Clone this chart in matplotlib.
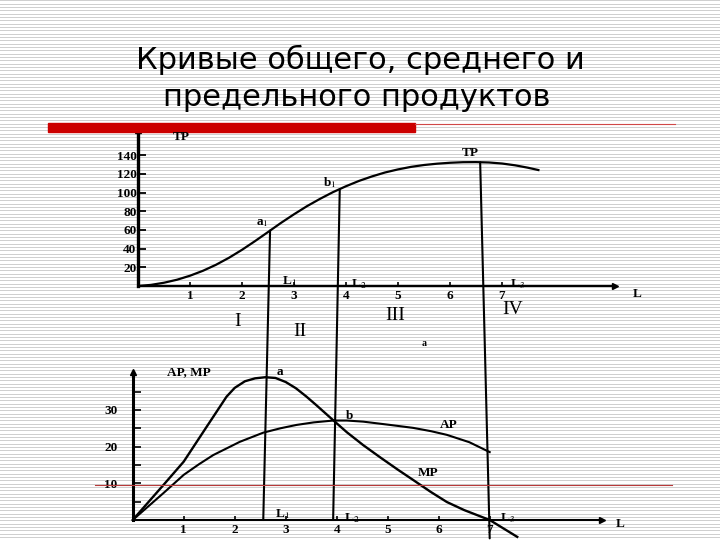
import numpy as np
import matplotlib
matplotlib.use("Agg")
import matplotlib.pyplot as plt
from matplotlib.patches import ConnectionPatch, Rectangle
from matplotlib.lines import Line2D

plt.rcParams["mathtext.fontset"] = "stix"

# ---------------- data ----------------
title_lines = ["Кривые общего, среднего и", "предельного продуктов"]

# total product (upper chart)
tp_L = [0, 0.25, 0.5, 0.75, 1.0, 1.25, 1.5, 1.75, 2.0, 2.25, 2.5, 2.75, 3.0, 3.25, 3.5,
        3.75, 4.0, 4.25, 4.5, 4.75, 5.0, 5.25, 5.5, 5.75, 6.0, 6.25, 6.5, 6.75, 7.0,
        7.25, 7.5, 7.7]
tp_val = [0, 1.2, 3.5, 6.7, 11, 16.3, 22.7, 30.2, 38.7, 48, 57.7, 67.5, 76.7, 85.4,
          93.2, 100.4, 106.7, 112.4, 117.2, 121.4, 124.7, 127.4, 129.4, 130.8, 131.8,
          132.4, 132.5, 132.1, 131, 129.1, 126.5, 124]
tp_yticks = [20, 40, 60, 80, 100, 120, 140]

# average and marginal product (lower chart)
mp_L = [0, 0.6, 1.0, 1.45, 1.84, 2.0, 2.2, 2.4, 2.6, 2.8, 3.0, 3.2, 3.4, 3.6, 3.93,
        4.2, 4.52, 4.86, 5.2, 5.5, 5.85, 6.16, 6.5, 7.0, 7.54]
mp_val = [0, 9.5, 15.9, 25.4, 33.6, 36.0, 37.8, 38.6, 38.9, 38.7, 37.6, 35.9, 33.7,
          31.3, 27.2, 23.9, 20.4, 17.0, 13.7, 10.9, 7.6, 4.9, 2.7, 0, -4.6]
ap_L = [0, 0.6, 1.0, 1.3, 1.58, 2.1, 2.56, 2.9, 3.21, 3.55, 3.93, 4.2, 4.52, 5.05,
        5.5, 5.85, 6.16, 6.6, 7.0]
ap_val = [0, 7.3, 12.3, 15.2, 17.7, 21.3, 23.8, 25.0, 25.9, 26.6, 27.1, 27.1, 26.8,
          25.9, 25.1, 24.2, 23.2, 21.2, 18.5]
apmp_major = [10, 20, 30]
apmp_minor = [5, 15, 25, 35]

x_ticks = [1, 2, 3, 4, 5, 6, 7]

# boundaries L1, L2, L3 (as placed in the upper and lower chart)
bound_top_L = [2.54, 3.88, 6.58]
bound_bot_L = [2.56, 3.93, 7.0]
bound_bot_y = [0, 0, -5]
bound_names = [r"L$_1$", r"L$_2$", r"L$_3$"]
stage_names = ["I", "II", "III", "IV"]

# ---------------- figure ----------------
W, H = 720, 540
fig = plt.figure(figsize=(7.2, 5.4), dpi=100)
fig.patch.set_facecolor("white")


def px(x, y):
    return x / W, 1 - y / H


# striped slide background
bg = fig.add_axes([0, 0, 1, 1], zorder=-10)
rows = np.arange(H)
stripe = np.where((rows * 3) % 10 < 3, 0.81, 1.0)
bg.imshow(np.tile(stripe[:, None], (1, W)), cmap="gray", vmin=0, vmax=1,
          aspect="auto", interpolation="nearest", extent=[0, W, H, 0])
bg.set_axis_off()

# title
title_font = ["DejaVu Sans"]
fig.text(*px(360, 60), title_lines[0], ha="center", va="center",
         fontsize=22, family=title_font, color="black")
fig.text(*px(357, 98), title_lines[1], ha="center", va="center",
         fontsize=22, family=title_font, color="black")

# red rule
fig.patches.append(Rectangle(px(48, 131.5), (415 - 48) / W, 8.5 / H,
                             transform=fig.transFigure, color="#cc0000", zorder=1))
fig.lines.append(Line2D([415 / W, 675 / W], [1 - 124 / H, 1 - 124 / H],
                        transform=fig.transFigure, color="#d04848", lw=0.8))

serif = ["Liberation Serif", "DejaVu Serif"]


def style_axes(ax, lw_y, lw_x):
    ax.set_facecolor("none")
    for s in ("top", "right"):
        ax.spines[s].set_visible(False)
    ax.spines["left"].set_linewidth(lw_y)
    ax.spines["bottom"].set_linewidth(lw_x)
    ax.plot(1, 0, ">k", ms=5, transform=ax.get_yaxis_transform(), clip_on=False)
    ax.plot(0, 1, "^k", ms=5, transform=ax.get_xaxis_transform(), clip_on=False)
    ax.set_xticks(x_ticks)
    ax.tick_params(axis="x", direction="in", length=3, width=1.2, pad=3)
    for lab in ax.get_xticklabels() + ax.get_yticklabels():
        lab.set_fontfamily(serif)
        lab.set_fontweight("bold")
        lab.set_fontsize(9.5)


# upper chart
ax1 = fig.add_axes([138 / W, (H - 286) / H, 477 / W, 156 / H])
ax1.set_xlim(0, 477 / 52)
ax1.set_ylim(0, 156 / 0.935)
ax1.plot(tp_L, tp_val, color="black", lw=1.6)
ax1.set_yticks(tp_yticks)
ax1.set_xticklabels([str(v) for v in x_ticks])
ax1.set_yticklabels([str(v) for v in tp_yticks])
ax1.tick_params(axis="y", direction="in", length=6, width=1.3, pad=1)
style_axes(ax1, 2.4, 1.5)

# lower chart
ax2 = fig.add_axes([132.7 / W, 20 / H, 469.3 / W, 148 / H])
ax2.set_xlim(0, 469.3 / 51)
ax2.set_ylim(0, 148 / 3.67)
ax2.plot(mp_L, mp_val, color="black", lw=1.7, clip_on=False)
ax2.plot(ap_L, ap_val, color="black", lw=1.5)
ax2.set_yticks(apmp_major)
ax2.set_yticks(apmp_minor, minor=True)
ax2.set_xticklabels([str(v) for v in x_ticks])
ax2.set_yticklabels([str(v) for v in apmp_major])
ax2.tick_params(axis="y", which="both", direction="in", length=6, width=1.2, pad=11)
style_axes(ax2, 2.2, 1.5)

# boundary lines through both charts
for lt, lb, yb in zip(bound_top_L, bound_bot_L, bound_bot_y):
    ytop = float(np.interp(lt, tp_L, tp_val))
    con = ConnectionPatch(xyA=(lt, ytop), coordsA=ax1.transData,
                          xyB=(lb, yb), coordsB=ax2.transData,
                          color="black", lw=1.5)
    fig.add_artist(con)

# thin red slide line
fig.lines.append(Line2D([95 / W, 672 / W], [1 - 485 / H, 1 - 485 / H],
                        transform=fig.transFigure, color="#b83a3a", lw=0.8))

# labels
lab_kw = dict(ha="center", va="center", family=serif, fontweight="bold",
              fontsize=9.5, color="black")
fig.text(*px(181, 137), "TP", **lab_kw)
fig.text(*px(470, 153), "TP", **lab_kw)
fig.text(*px(262, 223), r"a$_1$", **lab_kw)
fig.text(*px(330, 183), r"b$_1$", **lab_kw)
for name, pos in zip(bound_names, [(289, 281), (359, 284), (518, 284)]):
    fig.text(*px(*pos), name, **lab_kw)
fig.text(*px(637, 294), "L", **lab_kw)

rom_kw = dict(ha="center", va="center", family=serif, fontsize=14, color="black")
for name, pos in zip(stage_names, [(238, 321), (300, 331), (395, 316), (513, 310)]):
    fig.text(*px(*pos), name, **rom_kw)
fig.text(*px(424, 343), "a", ha="center", va="center", family=serif,
         fontweight="bold", fontsize=7)

fig.text(*px(189, 372), "AP, MP", **lab_kw)
fig.text(*px(280, 372), "a", **lab_kw)
fig.text(*px(350, 416), "b", **lab_kw)
fig.text(*px(449, 425), "AP", **lab_kw)
fig.text(*px(428, 473), "MP", **lab_kw)
for name, pos in zip(bound_names, [(282, 514), (352, 518), (508, 518)]):
    fig.text(*px(*pos), name, **lab_kw)
fig.text(*px(620, 524), "L", **lab_kw)

fig.savefig("out.png", dpi=100, facecolor=fig.get_facecolor())
